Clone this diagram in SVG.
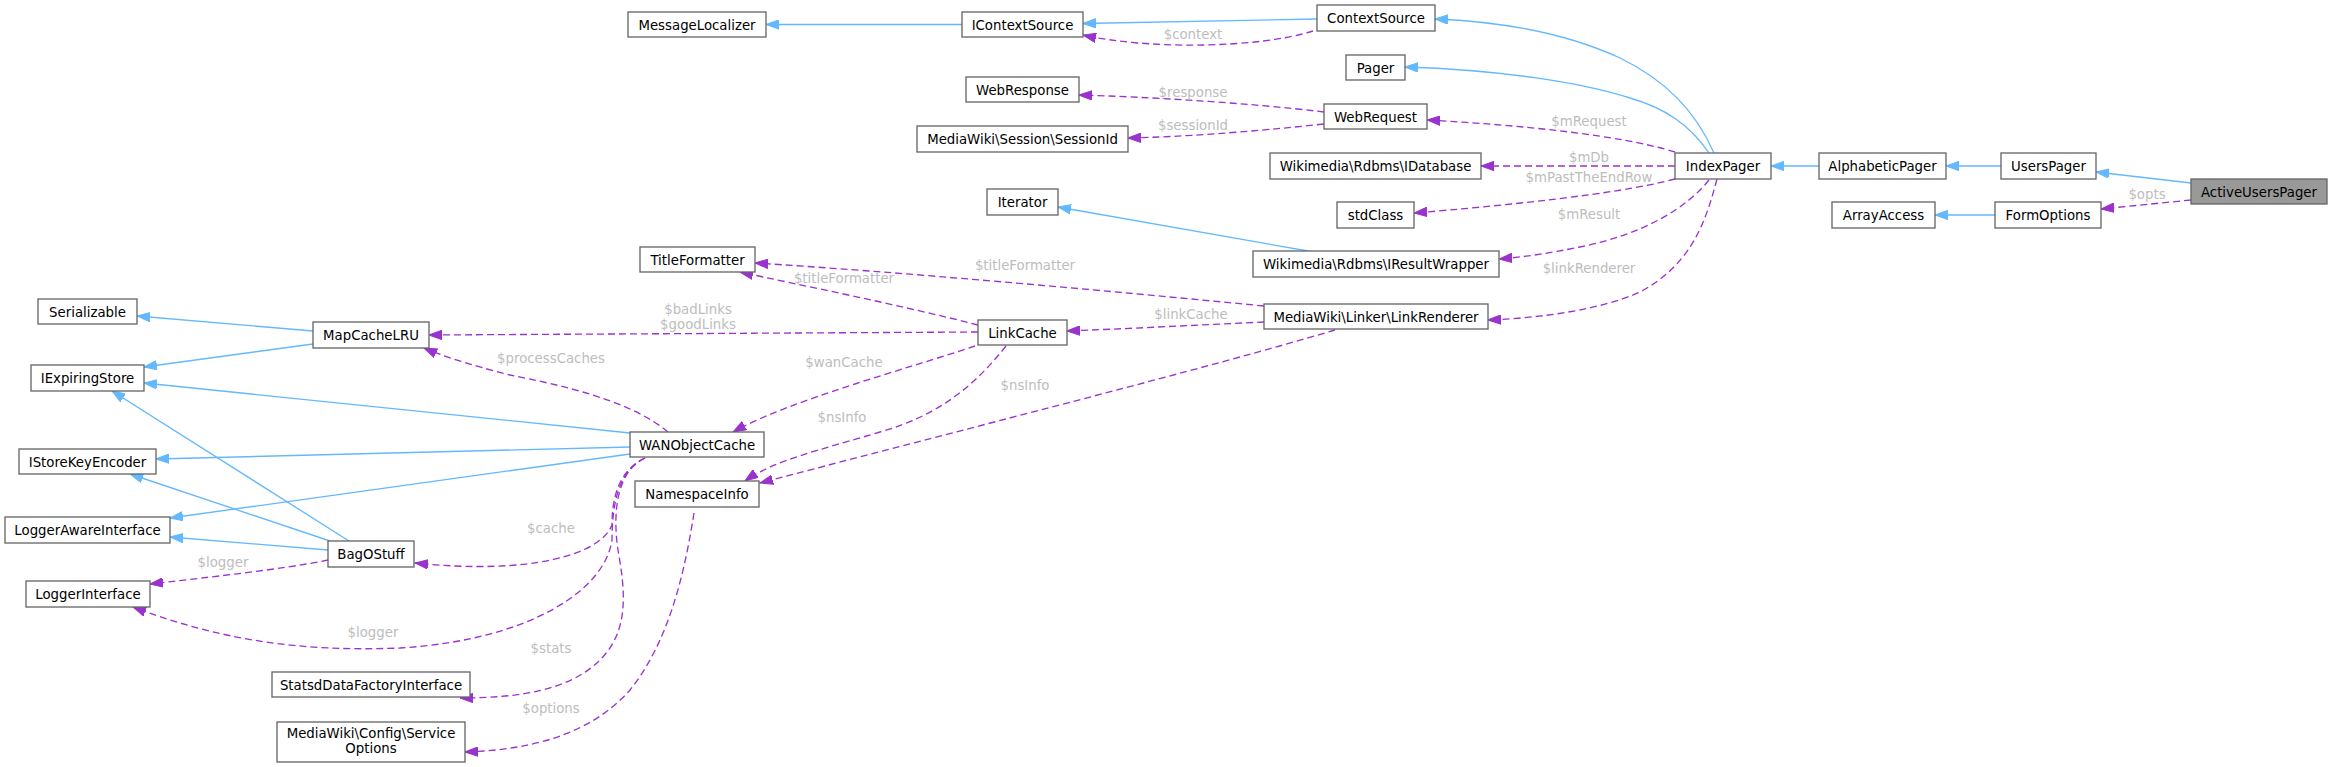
<svg xmlns="http://www.w3.org/2000/svg" width="2332" height="767" viewBox="0 0 2332 767">
<style>
.n rect{fill:#fff;stroke:#666;stroke-width:1.33}
.n text,.lbl{font-family:"DejaVu Sans",sans-serif;font-size:13.3px;text-anchor:middle}
.n text{fill:#000}
.lbl{fill:#bdbdbd}
.inh{fill:none;stroke:#63b8ff;stroke-width:1.33;marker-end:url(#ab)}
.use{fill:none;stroke:#9a32cd;stroke-width:1.33;stroke-dasharray:7,4;marker-end:url(#ap)}
</style>
<defs>
<marker id="ab" markerUnits="userSpaceOnUse" markerWidth="14" markerHeight="10" viewBox="0 0 14 10" refX="13" refY="5" orient="auto"><path d="M0,0.3 L13,5 L0,9.7 z" fill="#63b8ff" stroke="#63b8ff" stroke-width="1"/></marker>
<marker id="ap" markerUnits="userSpaceOnUse" markerWidth="14" markerHeight="10" viewBox="0 0 14 10" refX="13" refY="5" orient="auto"><path d="M0,0.3 L13,5 L0,9.7 z" fill="#9a32cd" stroke="#9a32cd" stroke-width="1"/></marker>
</defs>
<rect width="2332" height="767" fill="#fff"/>
<g id="connectors">
<path class="inh" d="M962,24.5 L766,24.5"/>
<path class="inh" d="M1317,19 L1083,23.5"/>
<path class="inh" d="M1714,153 C1695,110 1665,80 1620,58 C1570,35 1510,22 1435,19"/>
<path class="inh" d="M1709,153 C1690,125 1665,108 1630,98 C1580,82 1500,70 1405,67"/>
<path class="inh" d="M1819,166 L1771,166"/>
<path class="inh" d="M2001,166 L1946,166"/>
<path class="inh" d="M2191,183 L2096,172"/>
<path class="inh" d="M1995,215 L1935,215"/>
<path class="inh" d="M1308,251 L1058,207"/>
<path class="inh" d="M313,331 L137,316"/>
<path class="inh" d="M313,344 L144,367"/>
<path class="inh" d="M630,433 L144,383"/>
<path class="inh" d="M630,447 L156,459"/>
<path class="inh" d="M630,454 L170,518"/>
<path class="inh" d="M349,541 L112,391"/>
<path class="inh" d="M330,541 L130,474"/>
<path class="inh" d="M328,550 L170,537"/>

<path class="use" d="M1313,31 C1260,48 1150,50 1083,35"/>
<path class="use" d="M1324,112 C1250,103 1150,97 1079,95"/>
<path class="use" d="M1324,124 C1250,132 1180,137 1128,138"/>
<path class="use" d="M1675,152 C1620,135 1520,125 1427,120"/>
<path class="use" d="M1675,166 L1481,166"/>
<path class="use" d="M1675,179 C1620,194 1500,206 1414,213"/>
<path class="use" d="M1709,180 C1685,210 1640,235 1580,247 C1550,253 1525,257 1499,259"/>
<path class="use" d="M1717,179 C1705,225 1690,265 1640,292 C1600,310 1540,318 1488,320"/>
<path class="use" d="M2191,200 L2101,209"/>
<path class="use" d="M1264,306 C1100,290 900,272 755,263"/>
<path class="use" d="M978,325 C900,305 800,285 740,272"/>
<path class="use" d="M1264,322 C1200,325 1120,329 1067,331"/>
<path class="use" d="M978,332 L429,335"/>
<path class="use" d="M975,346 C910,368 790,400 733,432"/>
<path class="use" d="M1006,346 C975,385 940,415 880,432 C820,450 775,460 745,481"/>
<path class="use" d="M1335,330 C1200,370 1000,420 760,483"/>
<path class="use" d="M668,432 C630,400 560,385 510,375 C470,365 440,355 424,348"/>
<path class="use" d="M645,458 C620,470 612,495 612,525 C600,555 530,575 415,563"/>
<path class="use" d="M645,458 C620,470 612,500 612,540 C605,590 530,640 400,648 C300,652 220,640 133,607"/>
<path class="use" d="M645,458 C618,470 612,510 618,550 C625,590 630,630 600,660 C570,690 520,698 460,698"/>
<path class="use" d="M694,513 C685,570 670,640 630,690 C590,735 530,750 465,752"/>
<path class="use" d="M328,560 C280,570 200,578 150,584"/>

<text class="lbl" x="1193" y="38.5">$context</text>
<text class="lbl" x="1193" y="97">$response</text>
<text class="lbl" x="1193" y="130">$sessionId</text>
<text class="lbl" x="1589" y="126">$mRequest</text>
<text class="lbl" x="1589" y="162">$mDb</text>
<text class="lbl" x="1589" y="182">$mPastTheEndRow</text>
<text class="lbl" x="1589" y="219">$mResult</text>
<text class="lbl" x="1589" y="273">$linkRenderer</text>
<text class="lbl" x="2147" y="199">$opts</text>
<text class="lbl" x="1025" y="270">$titleFormatter</text>
<text class="lbl" x="844" y="283">$titleFormatter</text>
<text class="lbl" x="1191" y="319">$linkCache</text>
<text class="lbl" x="698" y="314">$badLinks</text>
<text class="lbl" x="698" y="329">$goodLinks</text>
<text class="lbl" x="844" y="367">$wanCache</text>
<text class="lbl" x="842" y="422">$nsInfo</text>
<text class="lbl" x="1025" y="390">$nsInfo</text>
<text class="lbl" x="551" y="363">$processCaches</text>
<text class="lbl" x="551" y="533">$cache</text>
<text class="lbl" x="373" y="637">$logger</text>
<text class="lbl" x="551" y="653">$stats</text>
<text class="lbl" x="551" y="713">$options</text>
<text class="lbl" x="223" y="567">$logger</text>
</g>

<g id="MessageLocalizer" class="n"><rect x="628" y="12" width="138" height="25"/><text x="697" y="29.5">MessageLocalizer</text></g>
<g id="IContextSource" class="n"><rect x="962" y="12" width="121" height="25"/><text x="1022.5" y="29.5">IContextSource</text></g>
<g id="ContextSource" class="n"><rect x="1317" y="5" width="118" height="26"/><text x="1376" y="23">ContextSource</text></g>
<g id="Pager" class="n"><rect x="1346" y="55" width="59" height="25"/><text x="1375.5" y="72.5">Pager</text></g>
<g id="WebResponse" class="n"><rect x="966" y="77" width="113" height="25"/><text x="1022.5" y="94.5">WebResponse</text></g>
<g id="WebRequest" class="n"><rect x="1324" y="104" width="103" height="25"/><text x="1375.5" y="121.5">WebRequest</text></g>
<g id="SessionId" class="n"><rect x="917" y="126" width="211" height="26"/><text x="1022.5" y="144">MediaWiki\Session\SessionId</text></g>
<g id="IDatabase" class="n"><rect x="1270" y="153" width="211" height="26"/><text x="1375.5" y="171">Wikimedia\Rdbms\IDatabase</text></g>
<g id="Iterator" class="n"><rect x="987" y="189" width="71" height="26"/><text x="1022.5" y="207">Iterator</text></g>
<g id="stdClass" class="n"><rect x="1337" y="202" width="77" height="26"/><text x="1375.5" y="220">stdClass</text></g>
<g id="IResultWrapper" class="n"><rect x="1253" y="251" width="246" height="26"/><text x="1376" y="269">Wikimedia\Rdbms\IResultWrapper</text></g>
<g id="LinkRenderer" class="n"><rect x="1264" y="304" width="224" height="25"/><text x="1376" y="321.5">MediaWiki\Linker\LinkRenderer</text></g>
<g id="IndexPager" class="n"><rect x="1675" y="153" width="96" height="26"/><text x="1723" y="171">IndexPager</text></g>
<g id="AlphabeticPager" class="n"><rect x="1819" y="153" width="127" height="26"/><text x="1882.5" y="171">AlphabeticPager</text></g>
<g id="UsersPager" class="n"><rect x="2001" y="153" width="95" height="26"/><text x="2048.5" y="171">UsersPager</text></g>
<g id="ActiveUsersPager" class="n"><rect x="2191" y="179" width="136" height="25" style="fill:#999"/><text x="2259" y="196.5">ActiveUsersPager</text></g>
<g id="ArrayAccess" class="n"><rect x="1832" y="202" width="103" height="26"/><text x="1883.5" y="220">ArrayAccess</text></g>
<g id="FormOptions" class="n"><rect x="1995" y="202" width="106" height="26"/><text x="2048" y="220">FormOptions</text></g>
<g id="TitleFormatter" class="n"><rect x="640" y="247" width="115" height="25"/><text x="697.5" y="264.5">TitleFormatter</text></g>
<g id="LinkCache" class="n"><rect x="978" y="320" width="89" height="25"/><text x="1022.5" y="337.5">LinkCache</text></g>
<g id="Serializable" class="n"><rect x="38" y="299" width="99" height="25"/><text x="87.5" y="316.5">Serializable</text></g>
<g id="MapCacheLRU" class="n"><rect x="313" y="322" width="116" height="26"/><text x="371" y="340">MapCacheLRU</text></g>
<g id="IExpiringStore" class="n"><rect x="31" y="365" width="113" height="26"/><text x="87.5" y="383">IExpiringStore</text></g>
<g id="WANObjectCache" class="n"><rect x="630" y="432" width="134" height="25"/><text x="697" y="449.5">WANObjectCache</text></g>
<g id="IStoreKeyEncoder" class="n"><rect x="19" y="449" width="137" height="25"/><text x="87.5" y="466.5">IStoreKeyEncoder</text></g>
<g id="NamespaceInfo" class="n"><rect x="635" y="481" width="124" height="26"/><text x="697" y="499">NamespaceInfo</text></g>
<g id="LoggerAwareInterface" class="n"><rect x="5" y="517" width="165" height="26"/><text x="87.5" y="535">LoggerAwareInterface</text></g>
<g id="BagOStuff" class="n"><rect x="328" y="541" width="86" height="26"/><text x="371" y="559">BagOStuff</text></g>
<g id="LoggerInterface" class="n"><rect x="26" y="581" width="124" height="26"/><text x="88" y="599">LoggerInterface</text></g>
<g id="StatsdDataFactoryInterface" class="n"><rect x="272" y="672" width="198" height="25"/><text x="371" y="689.5">StatsdDataFactoryInterface</text></g>
<g id="ServiceOptions" class="n"><rect x="277" y="722" width="188" height="40"/><text x="371" y="738">MediaWiki\Config\Service</text><text x="371" y="753">Options</text></g>
</svg>
